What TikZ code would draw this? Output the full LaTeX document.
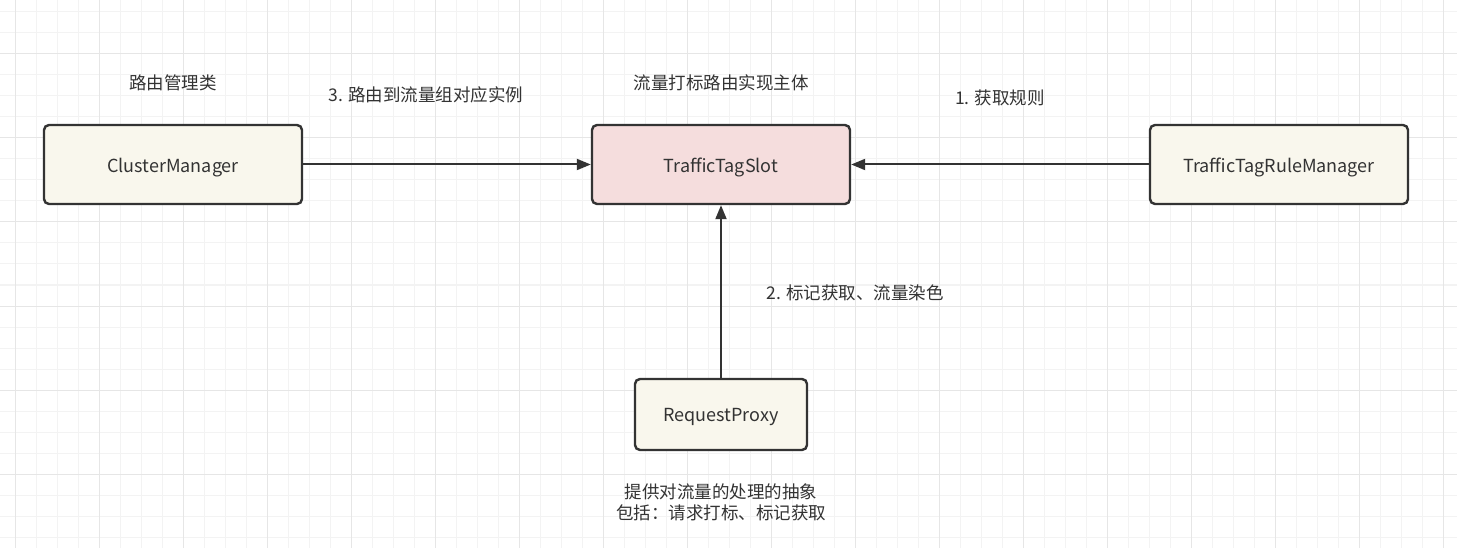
\documentclass[tikz,border=0pt]{standalone}
\usepackage{fontspec}
\setmainfont{Noto Sans CJK SC}
\usetikzlibrary{arrows.meta}
\definecolor{minorg}{HTML}{F3F3F3}
\definecolor{majorg}{HTML}{E6E6E6}
\definecolor{boxline}{HTML}{333333}
\definecolor{txt}{HTML}{333333}
\definecolor{yfill}{HTML}{F9F7ED}
\definecolor{pfill}{HTML}{F5DDDD}
\newcommand{\bx}[1]{\raisebox{-3pt}[\height][\depth]{#1}}
\begin{document}
\begin{tikzpicture}[x=1pt,y=-1pt,
  box/.style={draw=boxline, line width=2.4pt, rounded corners=5pt,
    minimum width=258pt, minimum height=79pt, inner sep=0pt,
    font=\fontsize{18}{21}\selectfont, text=txt},
  lbl/.style={inner sep=0pt, font=\fontsize{17.5}{21}\selectfont, text=txt, align=center},
  arr/.style={draw=boxline, line width=2pt, -{Triangle[length=14pt,width=11pt]}}]
\useasboundingbox (0,0) rectangle (1457,548);
\fill[white] (0,0) rectangle (1457,548);
% grid
\foreach \i in {0,...,68} \draw[minorg, line width=1pt] ({15+21*\i},0) -- ({15+21*\i},548);
\foreach \i in {0,...,25} \draw[minorg, line width=1pt] (0,{12+21*\i}) -- (1457,{12+21*\i});
\foreach \i in {0,...,17} \draw[majorg, line width=1pt] ({15+84*\i},0) -- ({15+84*\i},548);
\foreach \i in {0,...,5} \draw[majorg, line width=1pt] (0,{54+84*\i}) -- (1457,{54+84*\i});
% boxes
\node[box, fill=yfill] (cm) at (173,164.5) {\bx{ClusterManager}};
\node[box, fill=pfill] (slot) at (721,164.5) {\bx{TrafficTagSlot}};
\node[box, fill=yfill] (rm) at (1279,164.5) {\bx{TrafficTagRuleManager}};
\node[box, fill=yfill, minimum width=172pt, minimum height=71pt] (rp) at (721,414.5) {\bx{RequestProxy}};
% connectors
\draw[arr] (cm.east) -- (slot.west);
\draw[arr] (rm.west) -- (slot.east);
\draw[arr] (rp.north) -- (slot.south);
% labels
\node[lbl] (l1) at (173,83) {路由管理类};
\node[lbl] (l2) at (426,95) {3. 路由到流量组对应实例};
\node[lbl] (l3) at (721,83) {流量打标路由实现主体};
\node[lbl] (l4) at (1000,98) {1. 获取规则};
\node[lbl] (l5) at (855,293) {2. 标记获取、流量染色};
\node[lbl] (l6) at (721,502) {提供对流量的处理的抽象\\包括：请求打标、标记获取};
\end{tikzpicture}
\end{document}
